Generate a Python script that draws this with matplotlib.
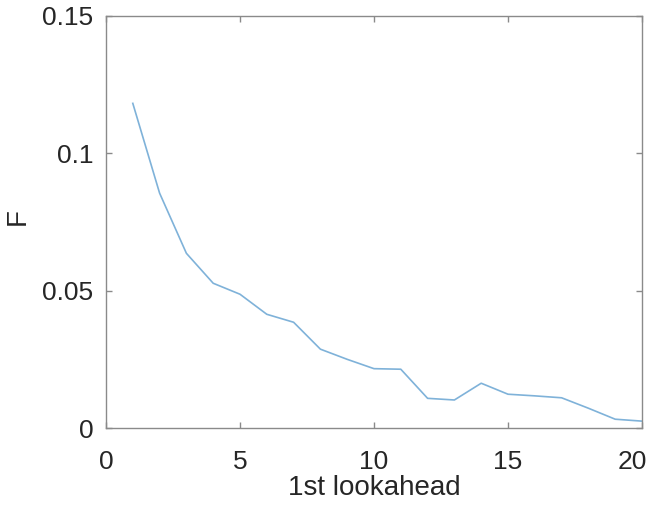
import matplotlib
matplotlib.use("Agg")
import matplotlib.pyplot as plt
import matplotlib.transforms as mtransforms

lookahead = list(range(1, 21))
f_values = [0.1182, 0.0855, 0.0636, 0.0527, 0.0487, 0.0414, 0.0385, 0.0287, 0.0250, 0.0216,
            0.0214, 0.0108, 0.0102, 0.0163, 0.0123, 0.0117, 0.0110, 0.0072, 0.0032, 0.0025]
x_ticks = [0, 5, 10, 15, 20]
y_ticks = [0, 0.05, 0.1, 0.15]
y_ticklabels = ["0", "0.05", "0.1", "0.15"]

plt.rcParams['font.family'] = ['Liberation Sans', 'DejaVu Sans']

fig = plt.figure(figsize=(6.61, 5.08), dpi=100)
ax = fig.add_axes([106 / 661, 80 / 508, 536 / 661, 412 / 508])

ax.plot(lookahead, f_values, color='#7fb2d9', lw=1.2)

ax.set_xlim(0, 20)
ax.set_ylim(0, 0.15)
ax.set_xticks(x_ticks)
ax.set_yticks(y_ticks)
ax.set_yticklabels(y_ticklabels)

for sp in ax.spines.values():
    sp.set_color('#8a8a8a')
    sp.set_linewidth(1.0)
ax.tick_params(direction='in', length=4, width=1, color='#8a8a8a',
               top=True, right=True, labelsize=19, labelcolor='#262626')
ax.tick_params(axis='y', pad=9)
ax.tick_params(axis='x', pad=16)

# last x label sits a bit left of its tick in the reference
lbl = ax.get_xticklabels()[-1]
lbl.set_transform(lbl.get_transform() + mtransforms.ScaledTranslation(-10 / 100, 0, fig.dpi_scale_trans))

ax.set_xlabel("1st lookahead", fontsize=20, color='#262626')
ax.set_ylabel("F", fontsize=20, color='#262626')
ax.xaxis.set_label_coords(0.5, -0.146)
ax.yaxis.set_label_coords(-0.164, 0.512)
ax.xaxis.label.set_va('center')
ax.yaxis.label.set_va('center')

fig.savefig("out.png", dpi=100)
